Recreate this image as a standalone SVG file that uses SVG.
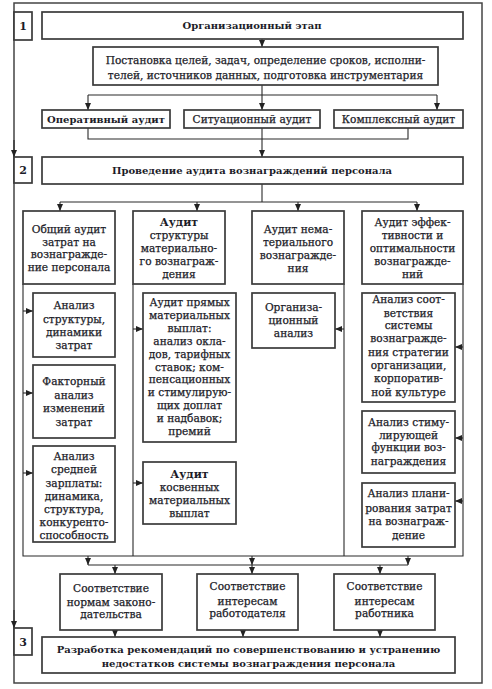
<svg xmlns="http://www.w3.org/2000/svg" width="492" height="689" viewBox="0 0 492 689">
<defs>
<marker id="ah" markerWidth="7" markerHeight="6" refX="7" refY="3" orient="auto" markerUnits="userSpaceOnUse"><path d="M0,0 L7,3 L0,6 z" fill="#222"/></marker>
</defs>
<style>
.frame{fill:none;stroke:#444;stroke-width:1.5}
.box{fill:#fff;stroke:#3a3a3a;stroke-width:1.7}
.ln{fill:none;stroke:#2a2a2a;stroke-width:1.1}
.arr{fill:none;stroke:#2a2a2a;stroke-width:1.1;marker-end:url(#ah)}
text{font-family:"DejaVu Serif","Liberation Serif",serif;font-size:10.6px;fill:#1c1c28;stroke:#1c1c28;stroke-width:0.25;text-anchor:middle}
.b{font-weight:bold;font-size:10px;stroke-width:0}
.h{font-weight:bold;font-size:11px;stroke-width:0}
.num{font-size:11px;font-weight:bold;stroke-width:0}
</style>
<rect width="492" height="689" fill="#fff"/>
<rect class="frame" x="14" y="3" width="468" height="680"/>

<g id="connectors">
<path class="arr" d="M262,39 V47"/>
<path class="arr" d="M262,85 V110"/>
<path class="ln" d="M88,95 H437"/>
<path class="arr" d="M88,95 V110"/>
<path class="arr" d="M437,95 V110"/>
<path class="ln" d="M88,128 V139 H408 V128"/>
<path class="arr" d="M262,128 V157"/>
<path class="ln" d="M262,184 V202"/>
<path class="ln" d="M60,202 H417"/>
<path class="arr" d="M60,202 V211"/>
<path class="arr" d="M197,202 V211"/>
<path class="arr" d="M298,202 V211"/>
<path class="arr" d="M417,202 V211"/>
<path class="ln" d="M23,284 V556 H463 V284"/>
<path class="ln" d="M133,284 V556"/>
<path class="ln" d="M344,284 V556"/>
<path class="arr" d="M23,311 H33"/>
<path class="arr" d="M23,393 H33"/>
<path class="arr" d="M23,473 H33"/>
<path class="arr" d="M133,329 H143"/>
<path class="arr" d="M133,483 H143"/>
<path class="arr" d="M344,329 H335"/>
<path class="arr" d="M463,347 H455"/>
<path class="arr" d="M463,438 H455"/>
<path class="arr" d="M463,501 H455"/>
<path class="arr" d="M88,556 V565"/>
<path class="arr" d="M252,556 V565"/>
<path class="arr" d="M408,556 V565"/>
<path class="ln" d="M88,565 H408"/>
<path class="arr" d="M115,565 V574"/>
<path class="arr" d="M252,565 V574"/>
<path class="arr" d="M380,565 V574"/>
<path class="arr" d="M115,630 V637"/>
<path class="arr" d="M243,630 V637"/>
<path class="arr" d="M380,630 V637"/>
<path class="arr" d="M14,140 V157"/>
<path class="arr" d="M14,610 V628"/>
</g>

<g id="n1num"><rect class="box" x="14" y="12" width="18" height="28"/><text class="num" x="23" y="30">1</text></g>
<g id="n1"><rect class="box" x="42" y="12" width="421" height="27"/><text class="b" x="252" y="29">Организационный этап</text></g>
<g id="npost"><rect class="box" x="93" y="47" width="345" height="38"/>
<text x="265.5" y="64">Постановка целей, задач, определение сроков, исполни-</text>
<text x="265.5" y="79">телей, источников данных, подготовка инструментария</text></g>
<g id="noper"><rect class="box" x="42" y="110" width="128" height="18"/><text class="b" x="106" y="123">Оперативный аудит</text></g>
<g id="nsit"><rect class="box" x="184" y="110" width="136" height="18"/><text x="252" y="123">Ситуационный аудит</text></g>
<g id="nkompl"><rect class="box" x="334" y="110" width="129" height="18"/><text x="398.5" y="123">Комплексный аудит</text></g>

<g id="n2num"><rect class="box" x="14" y="157" width="18" height="26"/><text class="num" x="23" y="174">2</text></g>
<g id="n2"><rect class="box" x="42" y="157" width="421" height="27"/><text class="b" x="252" y="174">Проведение аудита вознаграждений персонала</text></g>

<g id="hA"><rect class="box" x="23" y="211" width="92" height="73"/>
<text x="69" y="233">Общий аудит</text><text x="69" y="245.5">затрат на</text><text x="69" y="258">вознагражде-</text><text x="69" y="270.5">ние персонала</text></g>
<g id="hB"><rect class="box" x="133" y="211" width="92" height="73"/>
<text class="h" x="179" y="226">Аудит</text><text x="179" y="239">структуры</text><text x="179" y="252">материально-</text><text x="179" y="265">го вознаграж-</text><text x="179" y="278">дения</text></g>
<g id="hC"><rect class="box" x="252" y="211" width="92" height="73"/>
<text x="298" y="233">Аудит нема-</text><text x="298" y="246">териального</text><text x="298" y="259">вознагражде-</text><text x="298" y="271.5">ния</text></g>
<g id="hD"><rect class="box" x="362" y="211" width="101" height="73"/>
<text x="412.5" y="226">Аудит эффек-</text><text x="412.5" y="239">тивности и</text><text x="412.5" y="252">оптимальности</text><text x="412.5" y="265">вознагражде-</text><text x="412.5" y="278">ний</text></g>

<g id="a1"><rect class="box" x="33" y="293" width="82" height="64"/>
<text x="74" y="309">Анализ</text><text x="74" y="322.5">структуры,</text><text x="74" y="336">динамики</text><text x="74" y="349">затрат</text></g>
<g id="a2"><rect class="box" x="33" y="365" width="82" height="73"/>
<text x="74" y="385">Факторный</text><text x="74" y="398.5">анализ</text><text x="74" y="412">изменений</text><text x="74" y="425.5">затрат</text></g>
<g id="a3"><rect class="box" x="33" y="446" width="82" height="96"/>
<text x="74" y="460">Анализ</text><text x="74" y="473">средней</text><text x="74" y="486.5">зарплаты:</text><text x="74" y="499.5">динамика,</text><text x="74" y="512.5">структура,</text><text x="74" y="525.5">конкуренто-</text><text x="74" y="539">способность</text></g>

<g id="b1"><rect class="box" x="143" y="293" width="93" height="149"/>
<text x="189.5" y="306">Аудит прямых</text><text x="189.5" y="319">материальных</text><text x="189.5" y="331.5">выплат:</text><text x="189.5" y="344.5">анализ окла-</text><text x="189.5" y="357.5">дов, тарифных</text><text x="189.5" y="370.5">ставок; ком-</text><text x="189.5" y="383">пенсационных</text><text x="189.5" y="396">и стимулирую-</text><text x="189.5" y="409">щих доплат</text><text x="189.5" y="422">и надбавок;</text><text x="189.5" y="435">премий</text></g>
<g id="b2"><rect class="box" x="143" y="462" width="93" height="62"/>
<text class="h" x="189.5" y="478">Аудит</text><text x="189.5" y="491">косвенных</text><text x="189.5" y="504">материальных</text><text x="189.5" y="517">выплат</text></g>

<g id="c1"><rect class="box" x="252" y="293" width="83" height="55"/>
<text x="293.5" y="311">Организа-</text><text x="293.5" y="324">ционный</text><text x="293.5" y="337">анализ</text></g>

<g id="d1"><rect class="box" x="362" y="293" width="93" height="109"/>
<text x="408.5" y="303">Анализ соот-</text><text x="408.5" y="316.5">ветствия</text><text x="408.5" y="329">системы</text><text x="408.5" y="342">вознагражде-</text><text x="408.5" y="356">ния стратегии</text><text x="408.5" y="369">организации,</text><text x="408.5" y="382">корпоратив-</text><text x="408.5" y="395.5">ной культуре</text></g>
<g id="d2"><rect class="box" x="362" y="411" width="93" height="62"/>
<text x="408.5" y="426">Анализ стиму-</text><text x="408.5" y="438.5">лирующей</text><text x="408.5" y="451">функции воз-</text><text x="408.5" y="464.5">награждения</text></g>
<g id="d3"><rect class="box" x="362" y="483" width="93" height="64"/>
<text x="408.5" y="497">Анализ плани-</text><text x="408.5" y="511.5">рования затрат</text><text x="408.5" y="525">на вознаграж-</text><text x="408.5" y="539">дение</text></g>

<g id="e1"><rect class="box" x="60" y="574" width="102" height="56"/>
<text x="111" y="592">Соответствие</text><text x="111" y="605.5">нормам законо-</text><text x="111" y="618">дательства</text></g>
<g id="e2"><rect class="box" x="197" y="574" width="101" height="56"/>
<text x="247.5" y="590">Соответствие</text><text x="247.5" y="604.5">интересам</text><text x="247.5" y="617">работодателя</text></g>
<g id="e3"><rect class="box" x="334" y="574" width="101" height="56"/>
<text x="384.5" y="590">Соответствие</text><text x="384.5" y="604.5">интересам</text><text x="384.5" y="617">работника</text></g>

<g id="n3num"><rect class="box" x="14" y="628" width="18" height="27"/><text class="num" x="23" y="646">3</text></g>
<g id="n3"><rect class="box" x="42" y="637" width="413" height="36"/>
<text class="b" x="248.5" y="653">Разработка рекомендаций по совершенствованию и устранению</text>
<text class="b" x="248.5" y="667">недостатков системы вознаграждения персонала</text></g>
</svg>
